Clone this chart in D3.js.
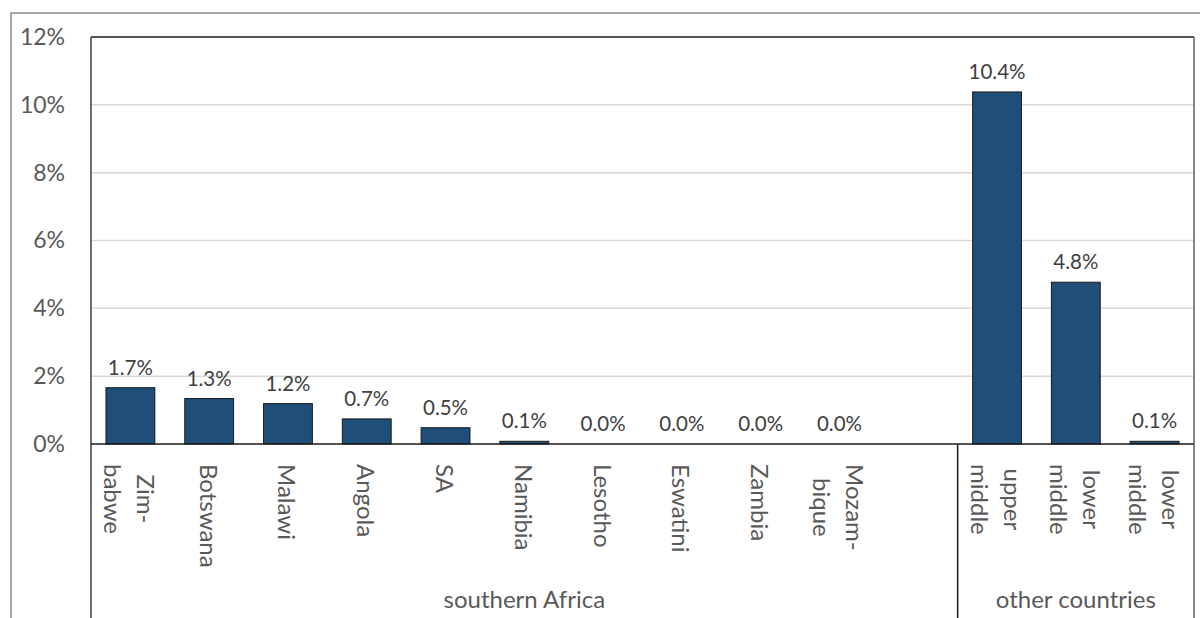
<!DOCTYPE html>
<html>
<head>
<meta charset="utf-8">
<script src="https://cdn.jsdelivr.net/npm/d3@7"></script>
<style>
  html, body { margin: 0; padding: 0; background: #fff; }
  svg { display: block; font-family: Lato, "Open Sans", sans-serif; }
</style>
</head>
<body>
<svg id="chart" width="1200" height="618"></svg>
<script>
// ---- data ----
const categories = [
  ["Zim-", "babwe"], ["Botswana"], ["Malawi"], ["Angola"], ["SA"], ["Namibia"],
  ["Lesotho"], ["Eswatini"], ["Zambia"], ["Mozam-", "bique"], null,
  ["upper", "middle"], ["lower", "middle"], ["lower", "middle"]
];
const values = [1.66, 1.34, 1.19, 0.74, 0.48, 0.08, 0.0, 0.0, 0.0, 0.0, null, 10.38, 4.77, 0.08];
const yTicks = [0, 2, 4, 6, 8, 10, 12];
const groups = [
  { name: "southern Africa", from: 0, to: 10 },
  { name: "other countries", from: 11, to: 13 }
];

// ---- layout ----
const svg = d3.select("#chart");
const plotL = 91, plotR = 1194, plotT = 37, zeroY = 444, plotB = 618;

const x = d3.scaleBand()
  .domain(d3.range(categories.length))
  .range([plotL, plotR])
  .paddingInner(0.38)
  .paddingOuter(0.19);
const y = d3.scaleLinear().domain([0, 12]).range([zeroY, plotT]);

// outer chart border
svg.append("rect")
  .attr("x", 11).attr("y", 13).attr("width", 1300).attr("height", 800)
  .attr("fill", "none").attr("stroke", "#8c8c8c").attr("stroke-width", 1.5);

// gridlines
svg.append("g").selectAll("line").data(yTicks.filter(d => d > 0 && d < 12)).join("line")
  .attr("x1", plotL).attr("x2", plotR)
  .attr("y1", d => y(d)).attr("y2", d => y(d))
  .attr("stroke", "#d9d9d9").attr("stroke-width", 1.5);

// y axis
const yAxis = d3.axisLeft(y).tickValues(yTicks).tickFormat(d => d + "%").tickSize(0).tickPadding(26);
const gy = svg.append("g").attr("transform", `translate(${plotL},0)`).call(yAxis);
gy.select(".domain").remove();
gy.selectAll("text")
  .attr("font-size", 23).attr("fill", "#595959")
  .attr("font-family", "Lato, sans-serif");

// plot frame
svg.append("line").attr("x1", plotL).attr("x2", plotR).attr("y1", plotT).attr("y2", plotT)
  .attr("stroke", "#1a1a1a").attr("stroke-width", 1.5);
svg.append("line").attr("x1", plotL).attr("x2", plotL).attr("y1", plotT).attr("y2", plotB)
  .attr("stroke", "#404040").attr("stroke-width", 1.5);
svg.append("line").attr("x1", plotR).attr("x2", plotR).attr("y1", plotT).attr("y2", plotB)
  .attr("stroke", "#606060").attr("stroke-width", 1.5);

// bars
const idx = d3.range(categories.length).filter(i => values[i] !== null);
svg.append("g").selectAll("rect").data(idx).join("rect")
  .attr("x", i => x(i))
  .attr("width", x.bandwidth())
  .attr("y", i => y(values[i]))
  .attr("height", i => zeroY - y(values[i]))
  .attr("fill", "#1F4E79")
  .attr("stroke", "#1a1a1a").attr("stroke-width", 1);

// data labels
svg.append("g").selectAll("text").data(idx).join("text")
  .attr("x", i => x(i) + x.bandwidth() / 2)
  .attr("y", i => y(values[i]) - 13)
  .attr("text-anchor", "middle")
  .attr("font-size", 20.5).attr("fill", "#404040")
  .text(i => values[i].toFixed(1) + "%");

// zero axis line
svg.append("line").attr("x1", plotL).attr("x2", plotR).attr("y1", zeroY).attr("y2", zeroY)
  .attr("stroke", "#1a1a1a").attr("stroke-width", 1.5);

// category labels (rotated)
const lineH = 33, labelTop = 464;
const catG = svg.append("g");
idx.forEach(i => {
  const lines = categories[i];
  const cx = x(i) + x.bandwidth() / 2;
  const g = catG.append("g").attr("transform", `translate(${cx},${labelTop}) rotate(90)`);
  const texts = lines.map((ln, k) => g.append("text")
    .attr("y", (k - (lines.length - 1) / 2) * lineH)
    .attr("dominant-baseline", "central")
    .attr("font-size", 24).attr("fill", "#595959")
    .text(ln));
  const lens = texts.map(t => t.node().getComputedTextLength());
  const maxL = d3.max(lens);
  texts.forEach((t, k) => t.attr("x", (maxL - lens[k]) / 2));
});

// group separator
const sepX = x(11) - x.step() * x.paddingInner() / 2;
svg.append("line")
  .attr("x1", sepX).attr("x2", sepX)
  .attr("y1", zeroY).attr("y2", plotB)
  .attr("stroke", "#1a1a1a").attr("stroke-width", 1.5);

// group labels
groups.forEach(g => {
  const x0 = g.from === 0 ? plotL : x(g.from) - x.step() * x.paddingInner() / 2;
  const x1 = g.to === categories.length - 1 ? plotR : x(g.to) + x.bandwidth() + x.step() * x.paddingInner() / 2;
  svg.append("text")
    .attr("x", (x0 + x1) / 2).attr("y", 608)
    .attr("text-anchor", "middle")
    .attr("font-size", 24).attr("fill", "#595959")
    .text(g.name);
});
</script>
</body>
</html>
